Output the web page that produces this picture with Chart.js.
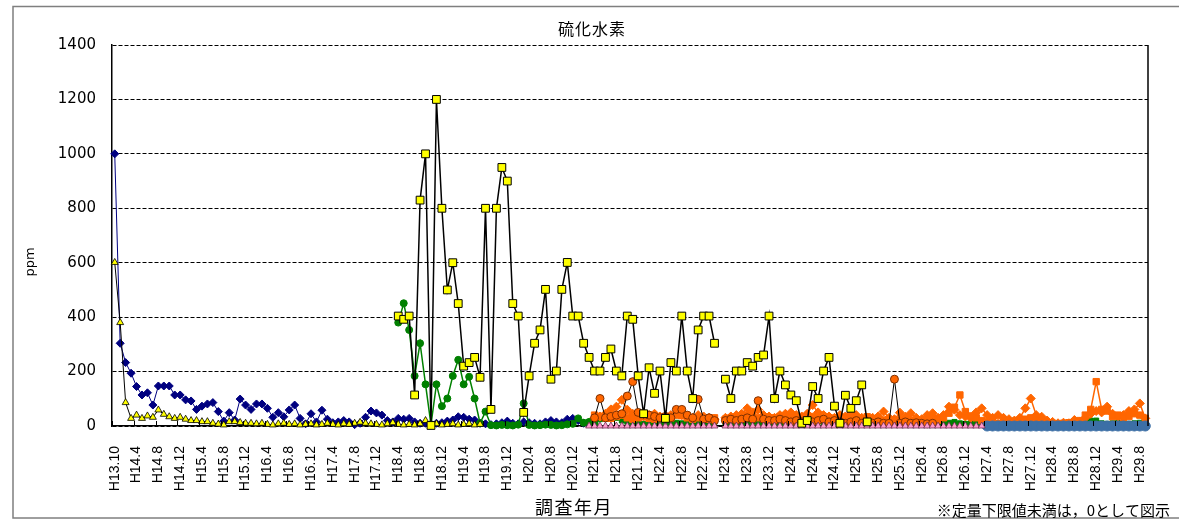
<!DOCTYPE html>
<html>
<head>
<meta charset="utf-8">
<title>硫化水素</title>
<script src="https://cdn.jsdelivr.net/npm/chart.js"></script>
<style>
  html, body { margin: 0; padding: 0; background: #fff; }
  #chart { display: block; }
</style>
</head>
<body>
<canvas id="chart" width="1179" height="523"></canvas>
<script>
// x軸の目盛ラベル（4か月おき）
var tickLabels = [
  'H13.10',
  'H14.4', 'H14.8', 'H14.12', 'H15.4', 'H15.8', 'H15.12',
  'H16.4', 'H16.8', 'H16.12', 'H17.4', 'H17.8', 'H17.12',
  'H18.4', 'H18.8', 'H18.12', 'H19.4', 'H19.8', 'H19.12',
  'H20.4', 'H20.8', 'H20.12', 'H21.4', 'H21.8', 'H21.12',
  'H22.4', 'H22.8', 'H22.12', 'H23.4', 'H23.8', 'H23.12',
  'H24.4', 'H24.8', 'H24.12', 'H25.4', 'H25.8', 'H25.12',
  'H26.4', 'H26.8', 'H26.12', 'H27.4', 'H27.8', 'H27.12',
  'H28.4', 'H28.8', 'H28.12', 'H29.4', 'H29.8'
];

// 各系列: 開始位置(調査回の番号)と値 [ppm]
var navyStart = 0;
var navyVals = [
  1000, 304, 233, 194, 145, 114, 122, 77, 147, 147,
  147, 114, 114, 96, 92, 61, 73, 81, 86, 53,
  18, 49, 22, 99, 77, 61, 81, 81, 65, 32,
  49, 34, 59, 77, 28, 8, 45, 15, 58, 25,
  12, 15, 20, 15, 5, 10, 32, 55, 48, 40,
  20, 15, 28, 25, 28, 15, 10, 10, 8, 10,
  12, 18, 22, 34, 32, 25, 22, 10, 8, 5,
  8, 12, 18, 10, 8, 15, 12, 10, 8, 15,
  20, 15, 12, 25, 28, 20, 10, 8
];

var yellowTriStart = 0;
var yellowTriVals = [
  601, 380, 86, 28, 40, 28, 37, 32, 59, 43,
  34, 28, 32, 25, 20, 20, 16, 16, 10, 7,
  4, 16, 16, 13, 10, 10, 8, 10, 6, 4,
  8, 10, 6, 8, 4, 6, 8, 4, 6, 10,
  6, 4, 8, 6, 10, 14, 10, 8, 6, 4,
  8, 12, 6, 4, 6, 4, 8, 20, 6, 8,
  4, 6, 8, 4, 6, 8, 4, 6
];

var yellowSqStart = 52;
var yellowSqVals = [
  404, 392, 404, 114, 830, 1000, 2, 1200, 800, 500,
  600, 450, 220, 233, 252, 179, 800, 61, 800, 950,
  900, 450, 404, 50, 184, 304, 353, 502, 172, 202,
  502, 601, 404, 404, 304, 252, 202, 202, 252, 283,
  202, 184, 404, 392, 184, 45, 214, 120, 202, 28,
  233, 202, 404, 202, 101, 353, 404, 404, 304, null,
  172, 101, 202, 202, 233, 220, 252, 261, 404, 101,
  202, 151, 114, 93, 10, 20, 145, 101, 202, 252,
  73, 10, 113, 65, 93, 151, 15
];

var greenCircStart = 52;
var greenCircVals = [
  380, 451, 353, 184, 304, 153, 5, 153, 73, 101,
  184, 243, 153, 181, 101, 10, 53, 3, 2, 4,
  3, 2, 5, 83, 4, 2, 3, 5, 4, 2,
  3, 6, 8, 28, 12, 15, 10
];

var orangeCircStart = 88;
var orangeCircVals = [
  30, 101, 30, 35, 40, 45, 110, 163, 50, 45,
  40, 35, 30, 35, 30, 61, 61, 40, 30, 98,
  25, 30, 20, null, 20, 25, 20, 25, 30, 25,
  93, 25, 20, 20, 25, 20, 15, 20, 15, 20,
  15, 20, 25, 15, 20, 15, 10, 15, 20, 10,
  15, 10, 15, 10, 10, 172, 10, 15, 10, 12,
  10, 8, 10
];

var orangeSqStart = 88;
var orangeSqVals = [
  40, 35, 30, 28, 35, 40, 30, 25, 30, 35,
  28, 25, 30, 35, 30, 40, 38, 30, 25, 30,
  28, 25, 30, null,
  25, 30, 28, 35, 40, 35, 30, 28, 25, 30,
  35, 30, 28, 25, 22, 30, 35, 40, 35, 30,
  28, 25, 30, 35, 25, 20, 34, 25, 20, 22,
  25, 20, 22, 18, 20, 15, 18, 20, 25, 22,
  30, 47, 69, 114, 53, 37, 30, 20, 15, 12,
  10, 12, 10, 15, 20, 25, 30, 20, 15, 12,
  10, 8, 10, 12, 15, 20, 40, 61, 163, 61,
  55, 34, 40, 30, 35, 45, 40, 28
];

var orangeDiaStart = 88;
var orangeDiaVals = [
  30, 35, 45, 61, 71, 96, 60, 45, 40, 35,
  40, 45, 35, 30, 40, 45, 40, 35, 30, 40,
  35, 30, 25, null,
  30, 35, 40, 45, 65, 50, 60, 40, 35, 30,
  40, 45, 50, 40, 35, 45, 77, 50, 40, 35,
  30, 40, 35, 45, 40, 30, 25, 30, 35, 53,
  30, 25, 49, 34, 47, 30, 25, 40, 47, 30,
  40, 71, 60, 40, 35, 30, 50, 65, 40, 30,
  40, 30, 25, 20, 30, 65, 101, 40, 34, 20,
  15, 10, 12, 10, 22, 15, 30, 45, 55, 50,
  71, 45, 35, 40, 55, 61, 83, 28
];

var greenSqStart = 87;
var greenSqVals = [
  15, 30, 25, 28, 34, 30, 20, 15, 12, 10,
  8, 10, 12, 10, 8, 10, 12, 10, 8, 10,
  12, 10, 8, 15, null,
  12, 10, 8, 10, 12, 15, 10, 8, 10, 12,
  10, 8, 10, 12, 10, 8, 15, 20, 10, 8,
  10, 12, 10, 8, 10, 12, 10, 8, 10, 12,
  10, 8, 10, 12, 10, 8, 10, 12, 10, 8,
  10, 12, 15, 10, 8, 10, 12, 10, 8, 10,
  10, 12, 15, 20, 20, 18, 12, 10, 8, 10,
  10, 8, 10, 12, 10, 8, 15, 20, 20, 10,
  8, 10, 12, 10, 8, 10, 12, 10
];

var pinkStart = 87;
var pinkVals = [
  0, 0, 0, 0, 0, 0, 0, 0, 0, 0,
  0, 0, 0, 0, 0, 0, 0, 0, 0, 0,
  0, 0, 0, 0, null,
  0, 0, 0, 0, 0, 0, 0, 0, 0, 0,
  0, 0, 0, 0, 0, 0, 0, 0, 0, 0,
  0, 0, 0, 0, 0, 0, 0, 0, 0, 0,
  0, 0, 0, 0, 0, 0, 0, 0, 0, 0,
  0, 0, 0, 0, 0, 0, 0, 0
];

var steelStart = 160;
var steelVals = [
  0, 0, 0, 0, 0, 0, 0, 0, 0, 0,
  0, 0, 0, 0, 0, 0, 0, 0, 0, 0,
  0, 0, 0, 0, 0, 0, 0, 0, 0, 0
];

// 値配列を {x, y} に変換
function series(start, vals) {
  return vals.map(function(v, k) { return { x: start + k, y: v }; });
}

function lineSet(data, opts) {
  var ds = {
    data: data,
    clip: false,
    spanGaps: false,
    tension: 0,
    fill: false,
    pointHoverRadius: 0
  };
  for (var key in opts) ds[key] = opts[key];
  return ds;
}

// 外枠・タイトル・注記など
var decorations = {
  id: 'decorations',
  beforeDraw: function(chart) {
    var ctx = chart.ctx;
    ctx.save();
    ctx.fillStyle = '#fff';
    ctx.fillRect(0, 0, chart.width, chart.height);
    ctx.strokeStyle = '#7f7f7f';
    ctx.lineWidth = 1.5;
    ctx.strokeRect(13, 6.5, 1200, 511.5);
    ctx.restore();
  },
  afterDraw: function(chart) {
    var ctx = chart.ctx;
    var a = chart.chartArea;
    var xs = chart.scales.x;
    ctx.save();

    // プロットエリア右端
    ctx.strokeStyle = '#000';
    ctx.lineWidth = 1.5;
    ctx.beginPath();
    ctx.moveTo(a.right, a.top);
    ctx.lineTo(a.right, a.bottom);
    ctx.stroke();

    // x軸の内向き目盛
    ctx.lineWidth = 1;
    xs.ticks.forEach(function(t) {
      var px = Math.round(xs.getPixelForValue(t.value - 0.5)) + 0.5;
      ctx.beginPath();
      ctx.moveTo(px, a.bottom);
      ctx.lineTo(px, a.bottom - 5);
      ctx.stroke();
    });

    ctx.fillStyle = '#000';
    ctx.textBaseline = 'middle';
    ctx.textAlign = 'center';
    ctx.font = '16px "Noto Sans CJK JP"';
    ctx.letterSpacing = '1px';
    ctx.fillText('硫化水素', 592, 29);

    ctx.font = '18px "Noto Sans CJK JP"';
    ctx.letterSpacing = '1.5px';
    ctx.fillText('調査年月', 574, 507);

    ctx.font = '15px "Noto Sans CJK JP"';
    ctx.letterSpacing = '0px';
    ctx.textAlign = 'right';
    ctx.fillText('※定量下限値未満は，0として図示', 1170, 510);

    ctx.translate(31, 262);
    ctx.rotate(-Math.PI / 2);
    ctx.textAlign = 'center';
    ctx.font = '13px "DejaVu Sans"';
    ctx.fillText('ppm', 0, 0);
    ctx.restore();
  }
};

var ctx = document.getElementById('chart');

new Chart(ctx, {
  type: 'line',
  data: {
    datasets: [
      lineSet(series(yellowSqStart, yellowSqVals), {
        borderColor: '#000', borderWidth: 1.5,
        pointStyle: 'rect', pointRadius: 5.5,
        pointBackgroundColor: '#ffff00', pointBorderColor: '#000', pointBorderWidth: 1
      }),
      lineSet(series(yellowTriStart, yellowTriVals), {
        borderColor: '#000', borderWidth: 1,
        pointStyle: 'triangle', pointRadius: 4,
        pointBackgroundColor: '#ffff00', pointBorderColor: '#000', pointBorderWidth: 0.8
      }),
      lineSet(series(pinkStart, pinkVals), {
        showLine: false,
        pointStyle: 'triangle', pointRadius: 4,
        pointBackgroundColor: '#ff99cc', pointBorderColor: '#6f3050', pointBorderWidth: 0.8
      }),
      lineSet(series(orangeCircStart, orangeCircVals), {
        borderColor: '#000', borderWidth: 1,
        pointStyle: 'circle', pointRadius: 4,
        pointBackgroundColor: '#ff6600', pointBorderColor: '#7f3000', pointBorderWidth: 1
      }),
      lineSet(series(greenCircStart, greenCircVals), {
        borderColor: '#008000', borderWidth: 1.5,
        pointStyle: 'circle', pointRadius: 3.5,
        pointBackgroundColor: '#008000', pointBorderColor: '#008000', pointBorderWidth: 1
      }),
      lineSet(series(navyStart, navyVals), {
        borderColor: '#000080', borderWidth: 1,
        pointStyle: 'rectRot', pointRadius: 4,
        pointBackgroundColor: '#000080', pointBorderColor: '#000080', pointBorderWidth: 1
      }),
      lineSet(series(steelStart, steelVals), {
        borderColor: '#3c6fa6', borderWidth: 3,
        pointStyle: 'circle', pointRadius: 5,
        pointBackgroundColor: '#3c6fa6', pointBorderColor: '#3c6fa6', pointBorderWidth: 1
      }),
      lineSet(series(orangeSqStart, orangeSqVals), {
        borderColor: '#ff6600', borderWidth: 1.5,
        pointStyle: 'rect', pointRadius: 4.5,
        pointBackgroundColor: '#ff6600', pointBorderColor: '#ff6600', pointBorderWidth: 1
      }),
      lineSet(series(orangeDiaStart, orangeDiaVals), {
        borderColor: '#ff6600', borderWidth: 1.5,
        pointStyle: 'rectRot', pointRadius: 4.5,
        pointBackgroundColor: '#ff6600', pointBorderColor: '#ff6600', pointBorderWidth: 1
      }),
      lineSet(series(greenSqStart, greenSqVals), {
        borderColor: '#008000', borderWidth: 1.5,
        pointStyle: 'rect', pointRadius: 3.5,
        pointBackgroundColor: '#008000', pointBorderColor: '#008000', pointBorderWidth: 1
      })
    ]
  },
  options: {
    responsive: false,
    animation: false,
    events: [],
    layout: { padding: { left: 0, top: 45, right: 31, bottom: 0 } },
    plugins: {
      legend: { display: false },
      title: { display: false },
      tooltip: { enabled: false }
    },
    scales: {
      x: {
        type: 'linear',
        min: -0.5,
        max: 189.5,
        grid: { display: false },
        border: { display: true, color: '#000', width: 1.5 },
        afterBuildTicks: function(scale) {
          scale.ticks = tickLabels.map(function(t, k) { return { value: k * 4 }; });
        },
        afterFit: function(scale) { scale.height = 97; },
        ticks: {
          autoSkip: false,
          maxRotation: 90,
          minRotation: 90,
          padding: 12,
          color: '#000',
          font: { family: 'Liberation Sans', size: 14 },
          callback: function(value) { return tickLabels[value / 4] || ''; }
        }
      },
      y: {
        min: 0,
        max: 1400,
        afterFit: function(scale) { scale.width = 112; },
        grid: { color: '#000', lineWidth: 1, drawTicks: false },
        border: { display: true, color: '#000', width: 1.5, dash: [4, 2] },
        ticks: {
          stepSize: 200,
          padding: 16,
          color: '#000',
          font: { family: 'DejaVu Sans', size: 15 },
          callback: function(value) { return String(value); }
        }
      }
    }
  },
  plugins: [decorations]
});
</script>
</body>
</html>
